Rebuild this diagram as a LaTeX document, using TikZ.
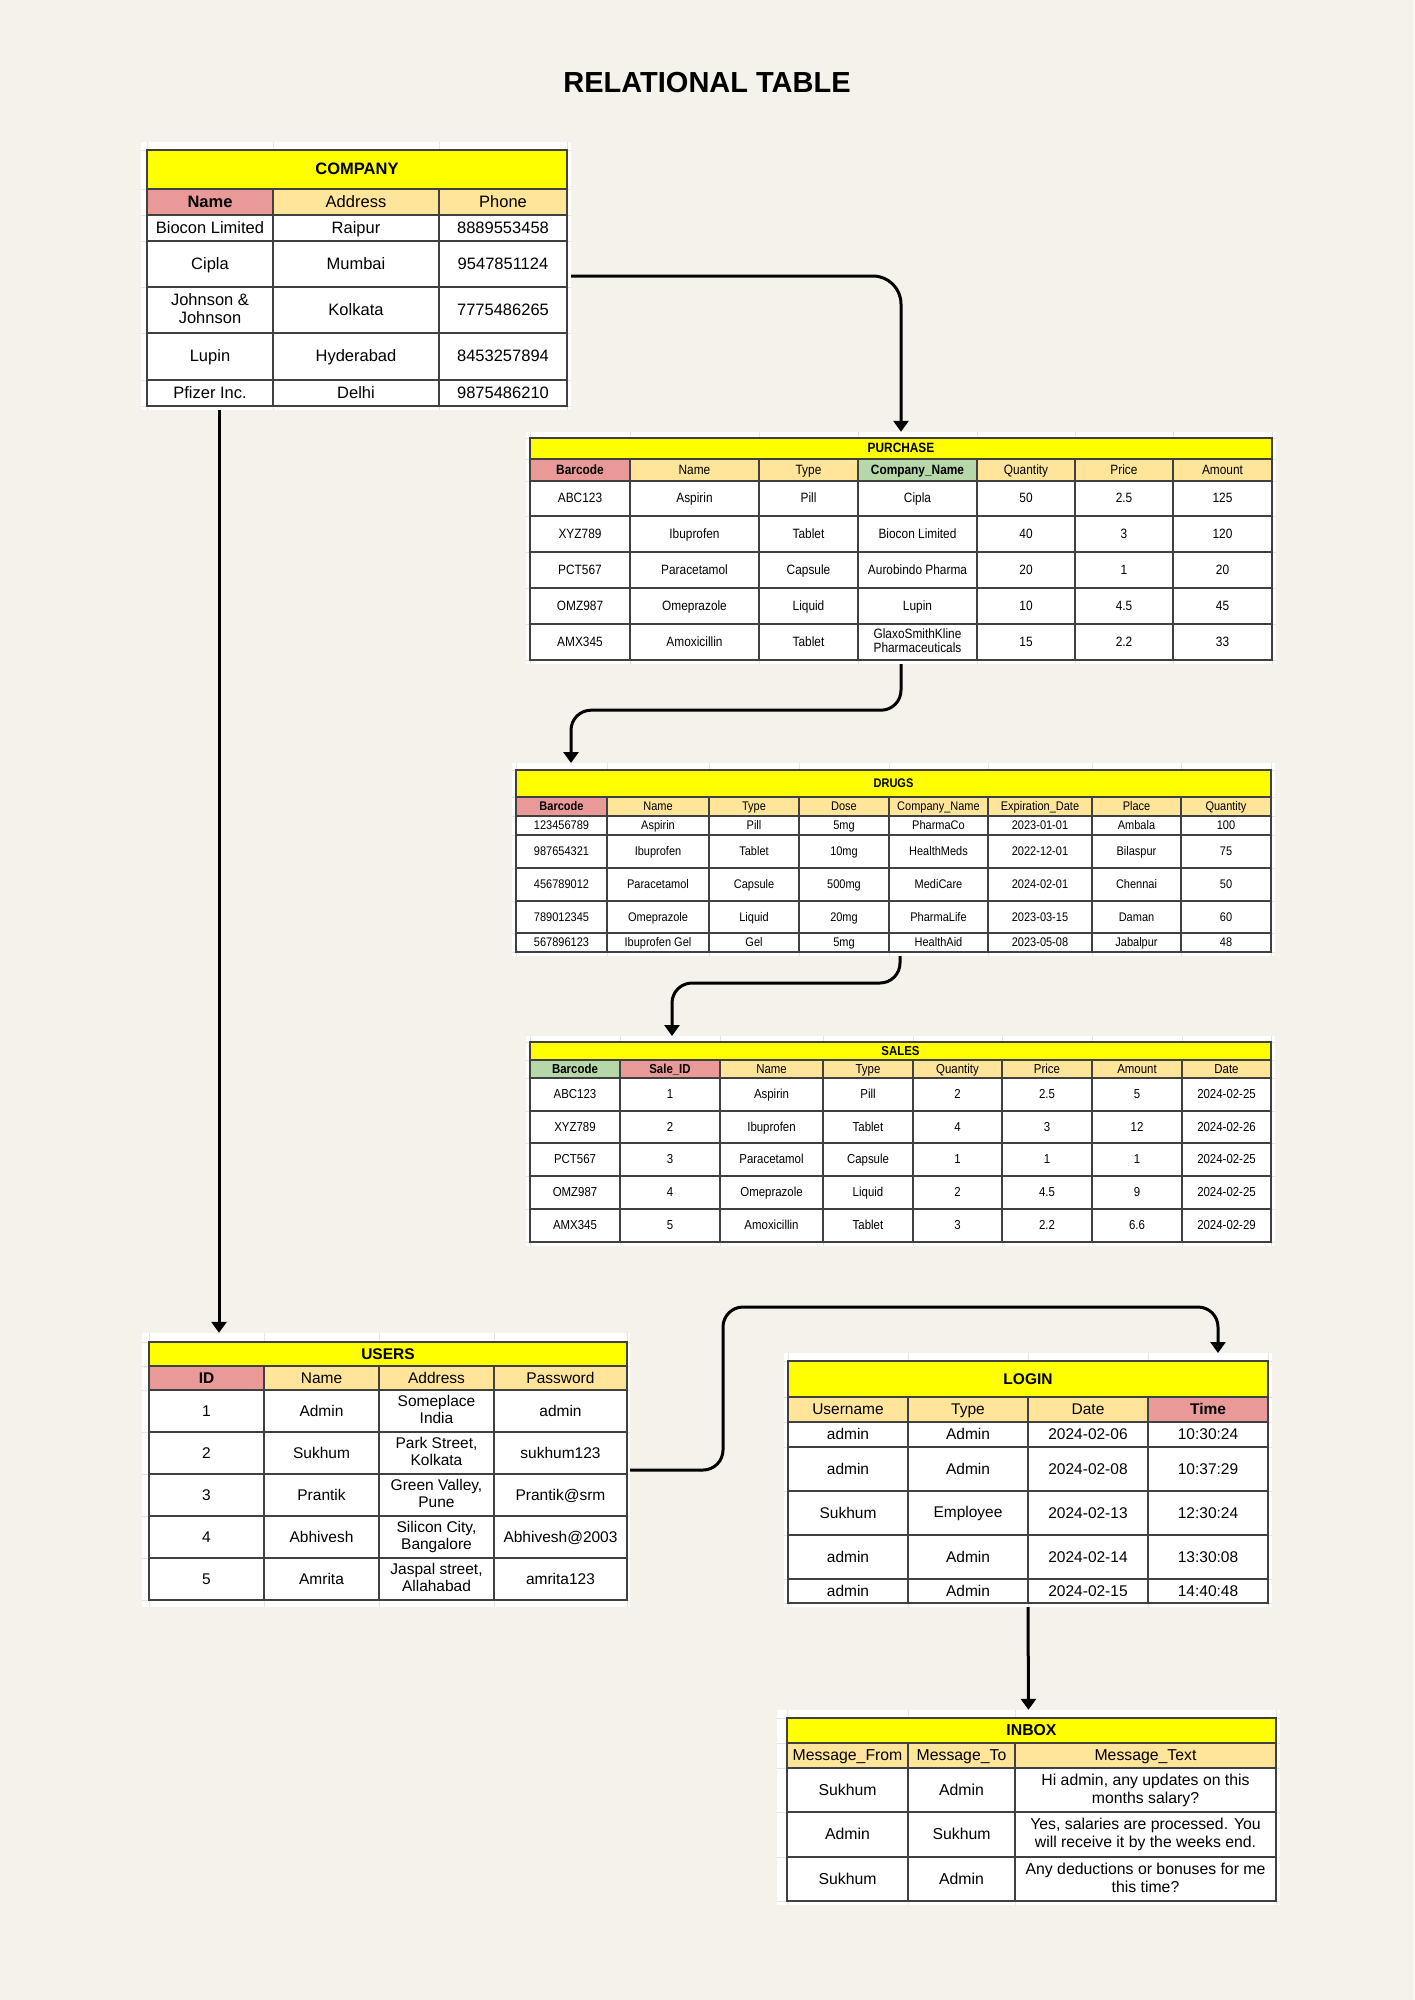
\documentclass[tikz,border=0pt]{standalone}
\usepackage{fontspec}
\setmainfont{Liberation Sans}
\newfontfamily\narrowfont[FakeStretch=0.88]{Liberation Sans}
\usetikzlibrary{arrows.meta}

\definecolor{paper}{HTML}{F5F2EB}
\definecolor{ttlcol}{HTML}{FFFF00}
\definecolor{hdcol}{HTML}{FFE599}
\definecolor{keycol}{HTML}{EA9999}
\definecolor{fkcol}{HTML}{B6D7A8}
\definecolor{gridcol}{HTML}{E4E4E4}

% one cell of a table: [style]{name}{x0}{x1}{y0}{y1}{text}
\newcommand{\tcell}[7][cell]{%
  \node[#1, minimum width={(#4-#3)*1pt}, minimum height={(#6-#5)*1pt}] (#2) at ({(#3+#4)/2},{(#5+#6)/2}) {#7};}
\newcommand{\cellstrut}{\rule[-0.19em]{0pt}{1.04em}}
\def\cellfont{\fontsize{16}{18}\selectfont}

\tikzset{
  cell/.style={draw=black!75, line width=1.3pt, fill=white, inner sep=0pt, align=center, font=\cellfont,
    execute at begin node=\cellstrut, execute at end node=\cellstrut},
  ttl/.style={cell, fill=ttlcol, font=\cellfont\bfseries},
  hd/.style={cell, fill=hdcol},
  key/.style={cell, fill=keycol, font=\cellfont\bfseries},
  fk/.style={cell, fill=fkcol, font=\cellfont\bfseries},
  panel/.style={fill=white, draw=none, inner sep=0pt},
  faint/.style={draw=gridcol, line width=1pt},
  link/.style={line width=3pt, rounded corners=20pt, -{Triangle[width=15pt,length=11pt]}},
}

\begin{document}
\begin{tikzpicture}[x=1pt, y=-1pt]
	\useasboundingbox (0,0) rectangle (1414,2000);
	\fill[paper] (0,0) rectangle (1414,2000);
	\node[font=\fontsize{29}{31}\selectfont\bfseries] (title) at (707,83) {RELATIONAL TABLE};

	% company
	\begin{scope}
	\def\cellfont{\fontsize{16.5}{18.5}\selectfont}
	\tcell[panel]{company}{141}{571}{142}{410}{}
	\foreach \x in {147,273,439,567} \draw[faint] (\x,142) -- (\x,410);
	\foreach \y in {150,189,215,241,287,333,380,406} \draw[faint] (141,\y) -- (571,\y);
	\tcell[ttl]{co-t}{147}{567}{150}{189}{COMPANY}
	\tcell[key]{co-h1}{147}{273}{189}{215}{Name}
	\tcell[hd]{co-h2}{273}{439}{189}{215}{Address}
	\tcell[hd]{co-h3}{439}{567}{189}{215}{Phone}
	\foreach \ya/\yb/\ca/\cb/\cc [count=\r] in {
	  215/241/Biocon Limited/Raipur/8889553458,
	  241/287/Cipla/Mumbai/9547851124,
	  287/333/{Johnson \&\\Johnson}/Kolkata/7775486265,
	  333/380/Lupin/Hyderabad/8453257894,
	  380/406/Pfizer Inc./Delhi/9875486210}{
	  \tcell{co-\r-1}{147}{273}{\ya}{\yb}{\ca}
	  \tcell{co-\r-2}{273}{439}{\ya}{\yb}{\cb}
	  \tcell{co-\r-3}{439}{567}{\ya}{\yb}{\cc}
	}
	\end{scope}

	% purchase
	\begin{scope}
	\def\cellfont{\fontsize{13.5}{14.5}\narrowfont}
	\tcell[panel]{purchase}{526}{1276}{432}{664}{}
	\foreach \x in {530,630,759,858,977,1075,1173,1272} \draw[faint] (\x,432) -- (\x,664);
	\foreach \y in {438,459,481,516,552,588,624,660} \draw[faint] (526,\y) -- (1276,\y);
	\tcell[ttl]{pu-t}{530}{1272}{438}{459}{PURCHASE}
	\tcell[key]{pu-h1}{530}{630}{459}{481}{Barcode}
	\tcell[hd]{pu-h2}{630}{759}{459}{481}{Name}
	\tcell[hd]{pu-h3}{759}{858}{459}{481}{Type}
	\tcell[fk]{pu-h4}{858}{977}{459}{481}{Company\_Name}
	\tcell[hd]{pu-h5}{977}{1075}{459}{481}{Quantity}
	\tcell[hd]{pu-h6}{1075}{1173}{459}{481}{Price}
	\tcell[hd]{pu-h7}{1173}{1272}{459}{481}{Amount}
	\foreach \ya/\yb/\ca/\cb/\cc/\cd/\ce/\cf/\cg [count=\r] in {
	  481/516/ABC123/Aspirin/Pill/Cipla/50/2.5/125,
	  516/552/XYZ789/Ibuprofen/Tablet/Biocon Limited/40/3/120,
	  552/588/PCT567/Paracetamol/Capsule/Aurobindo Pharma/20/1/20,
	  588/624/OMZ987/Omeprazole/Liquid/Lupin/10/4.5/45,
	  624/660/AMX345/Amoxicillin/Tablet/{GlaxoSmithKline\\Pharmaceuticals}/15/2.2/33}{
	  \tcell{pu-\r-1}{530}{630}{\ya}{\yb}{\ca}
	  \tcell{pu-\r-2}{630}{759}{\ya}{\yb}{\cb}
	  \tcell{pu-\r-3}{759}{858}{\ya}{\yb}{\cc}
	  \tcell{pu-\r-4}{858}{977}{\ya}{\yb}{\cd}
	  \tcell{pu-\r-5}{977}{1075}{\ya}{\yb}{\ce}
	  \tcell{pu-\r-6}{1075}{1173}{\ya}{\yb}{\cf}
	  \tcell{pu-\r-7}{1173}{1272}{\ya}{\yb}{\cg}
	}
	\end{scope}

	% drugs
	\begin{scope}
	\def\cellfont{\fontsize{12.5}{13.5}\narrowfont}
	\tcell[panel]{drugs}{512}{1275}{763}{956}{}
	\foreach \x in {516,607,709,799,889,988,1092,1181,1271} \draw[faint] (\x,763) -- (\x,956);
	\foreach \y in {770,797,816,835,868,901,933,952} \draw[faint] (512,\y) -- (1275,\y);
	\tcell[ttl]{dr-t}{516}{1271}{770}{797}{DRUGS}
	\tcell[key]{dr-h1}{516}{607}{797}{816}{Barcode}
	\tcell[hd]{dr-h2}{607}{709}{797}{816}{Name}
	\tcell[hd]{dr-h3}{709}{799}{797}{816}{Type}
	\tcell[hd]{dr-h4}{799}{889}{797}{816}{Dose}
	\tcell[hd]{dr-h5}{889}{988}{797}{816}{Company\_Name}
	\tcell[hd]{dr-h6}{988}{1092}{797}{816}{Expiration\_Date}
	\tcell[hd]{dr-h7}{1092}{1181}{797}{816}{Place}
	\tcell[hd]{dr-h8}{1181}{1271}{797}{816}{Quantity}
	\foreach \ya/\yb/\ca/\cb/\cc/\cd/\ce/\cf/\cg/\ch [count=\r] in {
	  816/835/123456789/Aspirin/Pill/5mg/PharmaCo/2023-01-01/Ambala/100,
	  835/868/987654321/Ibuprofen/Tablet/10mg/HealthMeds/2022-12-01/Bilaspur/75,
	  868/901/456789012/Paracetamol/Capsule/500mg/MediCare/2024-02-01/Chennai/50,
	  901/933/789012345/Omeprazole/Liquid/20mg/PharmaLife/2023-03-15/Daman/60,
	  933/952/567896123/Ibuprofen Gel/Gel/5mg/HealthAid/2023-05-08/Jabalpur/48}{
	  \tcell{dr-\r-1}{516}{607}{\ya}{\yb}{\ca}
	  \tcell{dr-\r-2}{607}{709}{\ya}{\yb}{\cb}
	  \tcell{dr-\r-3}{709}{799}{\ya}{\yb}{\cc}
	  \tcell{dr-\r-4}{799}{889}{\ya}{\yb}{\cd}
	  \tcell{dr-\r-5}{889}{988}{\ya}{\yb}{\ce}
	  \tcell{dr-\r-6}{988}{1092}{\ya}{\yb}{\cf}
	  \tcell{dr-\r-7}{1092}{1181}{\ya}{\yb}{\cg}
	  \tcell{dr-\r-8}{1181}{1271}{\ya}{\yb}{\ch}
	}
	\end{scope}

	% sales
	\begin{scope}
	\def\cellfont{\fontsize{13}{14}\narrowfont}
	\tcell[panel]{sales}{526}{1275}{1036}{1246}{}
	\foreach \x in {530,620,720,823,913,1002,1092,1182,1271} \draw[faint] (\x,1036) -- (\x,1246);
	\foreach \y in {1042,1060,1078,1111,1143,1176,1209,1242} \draw[faint] (526,\y) -- (1275,\y);
	\tcell[ttl]{sa-t}{530}{1271}{1042}{1060}{SALES}
	\tcell[fk]{sa-h1}{530}{620}{1060}{1078}{Barcode}
	\tcell[key]{sa-h2}{620}{720}{1060}{1078}{Sale\_ID}
	\tcell[hd]{sa-h3}{720}{823}{1060}{1078}{Name}
	\tcell[hd]{sa-h4}{823}{913}{1060}{1078}{Type}
	\tcell[hd]{sa-h5}{913}{1002}{1060}{1078}{Quantity}
	\tcell[hd]{sa-h6}{1002}{1092}{1060}{1078}{Price}
	\tcell[hd]{sa-h7}{1092}{1182}{1060}{1078}{Amount}
	\tcell[hd]{sa-h8}{1182}{1271}{1060}{1078}{Date}
	\foreach \ya/\yb/\ca/\cb/\cc/\cd/\ce/\cf/\cg/\ch [count=\r] in {
	  1078/1111/ABC123/1/Aspirin/Pill/2/2.5/5/2024-02-25,
	  1111/1143/XYZ789/2/Ibuprofen/Tablet/4/3/12/2024-02-26,
	  1143/1176/PCT567/3/Paracetamol/Capsule/1/1/1/2024-02-25,
	  1176/1209/OMZ987/4/Omeprazole/Liquid/2/4.5/9/2024-02-25,
	  1209/1242/AMX345/5/Amoxicillin/Tablet/3/2.2/6.6/2024-02-29}{
	  \tcell{sa-\r-1}{530}{620}{\ya}{\yb}{\ca}
	  \tcell{sa-\r-2}{620}{720}{\ya}{\yb}{\cb}
	  \tcell{sa-\r-3}{720}{823}{\ya}{\yb}{\cc}
	  \tcell{sa-\r-4}{823}{913}{\ya}{\yb}{\cd}
	  \tcell{sa-\r-5}{913}{1002}{\ya}{\yb}{\ce}
	  \tcell{sa-\r-6}{1002}{1092}{\ya}{\yb}{\cf}
	  \tcell{sa-\r-7}{1092}{1182}{\ya}{\yb}{\cg}
	  \tcell{sa-\r-8}{1182}{1271}{\ya}{\yb}{\ch}
	}
	\end{scope}

	% users
	\begin{scope}
	\def\cellfont{\fontsize{15.5}{17.5}\selectfont}
	\tcell[panel]{users}{142}{630}{1333}{1607}{}
	\foreach \x in {149,264,379,494,627} \draw[faint] (\x,1333) -- (\x,1607);
	\foreach \y in {1342,1366,1390,1432,1474,1516,1558,1600} \draw[faint] (142,\y) -- (630,\y);
	\tcell[ttl]{us-t}{149}{627}{1342}{1366}{USERS}
	\tcell[key]{us-h1}{149}{264}{1366}{1390}{ID}
	\tcell[hd]{us-h2}{264}{379}{1366}{1390}{Name}
	\tcell[hd]{us-h3}{379}{494}{1366}{1390}{Address}
	\tcell[hd]{us-h4}{494}{627}{1366}{1390}{Password}
	\foreach \ya/\yb/\ca/\cb/\cc/\cd [count=\r] in {
	  1390/1432/1/Admin/{Someplace\\India}/admin,
	  1432/1474/2/Sukhum/{Park Street,\\Kolkata}/sukhum123,
	  1474/1516/3/Prantik/{Green Valley,\\Pune}/Prantik@srm,
	  1516/1558/4/Abhivesh/{Silicon City,\\Bangalore}/Abhivesh@2003,
	  1558/1600/5/Amrita/{Jaspal street,\\Allahabad}/amrita123}{
	  \tcell{us-\r-1}{149}{264}{\ya}{\yb}{\ca}
	  \tcell{us-\r-2}{264}{379}{\ya}{\yb}{\cb}
	  \tcell{us-\r-3}{379}{494}{\ya}{\yb}{\cc}
	  \tcell{us-\r-4}{494}{627}{\ya}{\yb}{\cd}
	}
	\end{scope}

	% login
	\begin{scope}
	\def\cellfont{\fontsize{15.5}{17.5}\selectfont}
	\tcell[panel]{login}{784}{1272}{1353}{1607}{}
	\foreach \x in {788,908,1028,1148,1268} \draw[faint] (\x,1353) -- (\x,1607);
	\foreach \y in {1361,1397,1422,1447,1491,1535,1579,1603} \draw[faint] (784,\y) -- (1272,\y);
	\tcell[ttl]{lo-t}{788}{1268}{1361}{1397}{LOGIN}
	\tcell[hd]{lo-h1}{788}{908}{1397}{1422}{Username}
	\tcell[hd]{lo-h2}{908}{1028}{1397}{1422}{Type}
	\tcell[hd]{lo-h3}{1028}{1148}{1397}{1422}{Date}
	\tcell[key]{lo-h4}{1148}{1268}{1397}{1422}{Time}
	\foreach \ya/\yb/\ca/\cb/\cc/\cd [count=\r] in {
	  1422/1447/admin/Admin/2024-02-06/10:30:24,
	  1447/1491/admin/Admin/2024-02-08/10:37:29,
	  1491/1535/Sukhum/Employee/2024-02-13/12:30:24,
	  1535/1579/admin/Admin/2024-02-14/13:30:08,
	  1579/1603/admin/Admin/2024-02-15/14:40:48}{
	  \tcell{lo-\r-1}{788}{908}{\ya}{\yb}{\ca}
	  \tcell{lo-\r-2}{908}{1028}{\ya}{\yb}{\cb}
	  \tcell{lo-\r-3}{1028}{1148}{\ya}{\yb}{\cc}
	  \tcell{lo-\r-4}{1148}{1268}{\ya}{\yb}{\cd}
	}
	\end{scope}

	% inbox
	\begin{scope}
	\def\cellfont{\fontsize{15.8}{17.8}\selectfont}
	\tcell[panel]{inbox}{777}{1280}{1710}{1905}{}
	\foreach \x in {787,908,1015,1276} \draw[faint] (\x,1710) -- (\x,1905);
	\foreach \y in {1718,1743,1768,1812,1857,1901} \draw[faint] (777,\y) -- (1280,\y);
	\tcell[ttl]{in-t}{787}{1276}{1718}{1743}{INBOX}
	\tcell[hd]{in-h1}{787}{908}{1743}{1768}{Message\_From}
	\tcell[hd]{in-h2}{908}{1015}{1743}{1768}{Message\_To}
	\tcell[hd]{in-h3}{1015}{1276}{1743}{1768}{Message\_Text}
	\foreach \ya/\yb/\ca/\cb/\cc [count=\r] in {
	  1768/1812/Sukhum/Admin/{Hi admin, any updates on this\\months salary?},
	  1812/1857/Admin/Sukhum/{Yes, salaries are processed. You\\will receive it by the weeks end.},
	  1857/1901/Sukhum/Admin/{Any deductions or bonuses for me\\this time?}}{
	  \tcell{in-\r-1}{787}{908}{\ya}{\yb}{\ca}
	  \tcell{in-\r-2}{908}{1015}{\ya}{\yb}{\cb}
	  \tcell{in-\r-3}{1015}{1276}{\ya}{\yb}{\cc}
	}
	\end{scope}

	% links
	\coordinate (co-down) at (219,410);
	\coordinate (dr-in) at (571,763);
	\coordinate (dr-out) at (900,956);
	\coordinate (sa-in) at (672,1036);
	\coordinate (lo-bend) at (723,1307);
	\coordinate (lo-in) at (1218,1353);
	\draw[link, rounded corners=28pt] (company.east) -| (purchase.north);
	\draw[link] (purchase.south) -- ++(0,46) -| (dr-in);
	\draw[link] (dr-out) -- ++(0,27) -| (sa-in);
	\draw[link] (co-down) -- (co-down |- users.north);
	\draw[link] (users.east) -| (lo-bend) -| (lo-in);
	\draw[link] (login.south) -- (inbox.north);
\end{tikzpicture}
\end{document}
